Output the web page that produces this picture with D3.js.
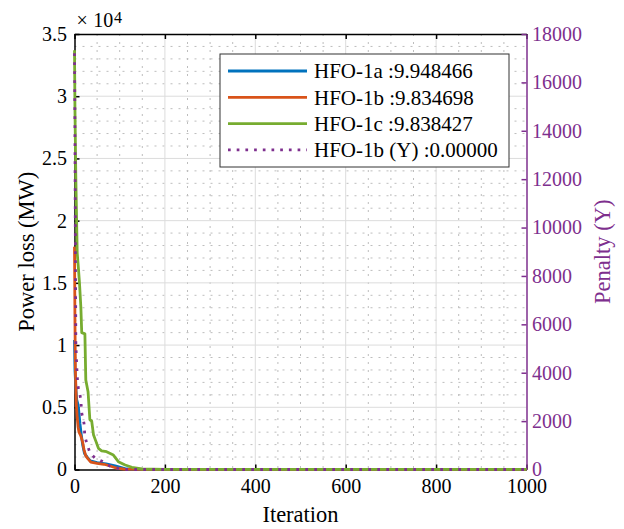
<!DOCTYPE html>
<html>
<head>
<meta charset="utf-8">
<script src="https://cdn.jsdelivr.net/npm/d3@7"></script>
<style>
  html, body { margin: 0; padding: 0; background: #fff; }
  svg { display: block; font-family: "Liberation Serif", "Times New Roman", serif; }
</style>
</head>
<body>
<svg id="chart" width="624" height="529"></svg>
<script>
// Convergence histories (best power loss per iteration, MW)
const hfo1aIter = [0, 1, 3, 5, 8, 10, 12, 15, 18, 22, 28, 35, 50, 70, 90, 115, 150, 1000];
const hfo1aLoss = [10400, 8000, 6500, 5600, 5200, 4500, 3700, 2800, 2000, 1300, 1000, 700, 550, 450, 300, 40, 12, 9.948466];

const hfo1bIter = [0, 1, 2, 4, 6, 8, 10, 14, 18, 21, 25, 30, 36, 50, 65, 77, 92, 110, 150, 1000];
const hfo1bLoss = [17900, 12000, 8000, 5300, 4200, 3400, 3000, 2700, 2200, 1600, 1100, 850, 600, 500, 420, 300, 120, 30, 10, 9.834698];

const hfo1cIter = [0, 1, 3, 6, 9, 11, 14, 16, 23, 25, 30, 34, 38, 42, 47, 53, 60, 71, 86, 97, 112, 127, 149, 200, 1000];
const hfo1cLoss = [33700, 29000, 23300, 17400, 16000, 15000, 13100, 11000, 10900, 7200, 6250, 4000, 3900, 2800, 2300, 1700, 1500, 1430, 1160, 630, 360, 180, 40, 12, 9.838427];

// Penalty of HFO-1b (right axis)
const penaltyIter = [0, 1, 2, 3, 5, 7, 9, 12, 14, 16, 21, 23, 27, 34, 45, 60, 78, 104, 1000];
const penaltyVal = [17200, 14000, 9000, 5200, 4240, 3570, 3300, 3100, 2870, 2330, 1910, 1360, 1100, 694, 480, 351, 145, 0, 0];

const legendLabels = ["HFO-1a :9.948466", "HFO-1b :9.834698", "HFO-1c :9.838427", "HFO-1b (Y) :0.00000"];
const seriesColors = ["#0072BD", "#D95319", "#77AC30", "#7E2F8E"];

const xTicks = [0, 200, 400, 600, 800, 1000];
const xTickLabels = ["0", "200", "400", "600", "800", "1000"];
const yLeftTicks = [0, 5000, 10000, 15000, 20000, 25000, 30000, 35000];
const yLeftTickLabels = ["0", "0.5", "1", "1.5", "2", "2.5", "3", "3.5"];
const yRightTicks = [0, 2000, 4000, 6000, 8000, 10000, 12000, 14000, 16000, 18000];
const yRightTickLabels = ["0", "2000", "4000", "6000", "8000", "10000", "12000", "14000", "16000", "18000"];

const plotLeft = 74.5, plotRight = 526.5, plotTop = 34, plotBottom = 469.5;
const svg = d3.select("#chart");

const x = d3.scaleLinear().domain([0, 1000]).range([plotLeft, plotRight]);
const yL = d3.scaleLinear().domain([0, 35000]).range([plotBottom, plotTop]);
const yR = d3.scaleLinear().domain([0, 18000]).range([plotBottom, plotTop]);

// Minor grid (dotted)
const minorG = svg.append("g").attr("stroke", "#bdbdbd").attr("stroke-width", 1).attr("stroke-dasharray", "2,6");
x.ticks(20).filter(v => v % 200 !== 0).forEach(v => {
  minorG.append("line").attr("x1", x(v)).attr("x2", x(v)).attr("y1", plotTop).attr("y2", plotBottom);
});
yL.ticks(35).filter(v => v % 5000 !== 0).forEach(v => {
  minorG.append("line").attr("x1", plotLeft).attr("x2", plotRight).attr("y1", yL(v)).attr("y2", yL(v));
});

// Major grid
const majorG = svg.append("g").attr("stroke", "#dcdcdc").attr("stroke-width", 1);
xTicks.slice(1, -1).forEach(v => {
  majorG.append("line").attr("x1", x(v)).attr("x2", x(v)).attr("y1", plotTop).attr("y2", plotBottom);
});
yLeftTicks.slice(1, -1).forEach(v => {
  majorG.append("line").attr("x1", plotLeft).attr("x2", plotRight).attr("y1", yL(v)).attr("y2", yL(v));
});

// Axes
function styleAxis(g, color, size) {
  g.selectAll(".domain").attr("stroke", color).attr("stroke-width", 1.5);
  g.selectAll(".tick line").attr("stroke", color).attr("stroke-width", 1.5);
  g.selectAll(".tick text").attr("fill", color).style("font-size", size + "px")
    .style("font-family", '"Liberation Serif", "Times New Roman", serif');
}

const xAxis = svg.append("g").attr("transform", `translate(0,${plotBottom})`)
  .call(d3.axisBottom(x).tickValues(xTicks).tickFormat((d, i) => xTickLabels[i])
    .tickSizeInner(-5).tickSizeOuter(0).tickPadding(9.5));
styleAxis(xAxis, "#000", 20);

const xTop = svg.append("g").attr("transform", `translate(0,${plotTop})`)
  .call(d3.axisTop(x).tickValues(xTicks).tickFormat("").tickSizeInner(-5).tickSizeOuter(0));
styleAxis(xTop, "#000", 20);

const yAxisL = svg.append("g").attr("transform", `translate(${plotLeft},0)`)
  .call(d3.axisLeft(yL).tickValues(yLeftTicks).tickFormat((d, i) => yLeftTickLabels[i])
    .tickSizeInner(-5).tickSizeOuter(0).tickPadding(7.5));
styleAxis(yAxisL, "#000", 20);

const yAxisR = svg.append("g").attr("transform", `translate(${plotRight},0)`)
  .call(d3.axisRight(yR).tickValues(yRightTicks).tickFormat((d, i) => yRightTickLabels[i])
    .tickSizeInner(-5).tickSizeOuter(0).tickPadding(5.5));
styleAxis(yAxisR, "#7E2F8E", 20);

// Exponent for left axis
const expo = svg.append("text").attr("y", 27).attr("fill", "#000").style("font-size", "20px");
expo.append("tspan").attr("x", 76.5).text("\u00D7");
expo.append("tspan").attr("x", 93.3).text("10");
expo.append("tspan").attr("x", 114).attr("y", 23).style("font-size", "16px").text("4");

// Axis titles
svg.append("text").attr("x", (plotLeft + plotRight) / 2).attr("y", 522).attr("text-anchor", "middle")
  .style("font-size", "22.5px").attr("fill", "#000").text("Iteration");
svg.append("text").attr("transform", `translate(34,${(plotTop + plotBottom) / 2}) rotate(-90)`)
  .attr("text-anchor", "middle").style("font-size", "22.5px").attr("fill", "#000").text("Power loss (MW)");
svg.append("text").attr("transform", `translate(610,${(plotTop + plotBottom) / 2}) rotate(-90)`)
  .attr("text-anchor", "middle").style("font-size", "22.5px").attr("fill", "#7E2F8E").text("Penalty (Y)");

// Data lines
svg.append("clipPath").attr("id", "plotClip").append("rect")
  .attr("x", plotLeft - 3).attr("y", plotTop - 3)
  .attr("width", plotRight - plotLeft + 6).attr("height", plotBottom - plotTop + 6);
const plot = svg.append("g").attr("clip-path", "url(#plotClip)");

const lossSeries = [
  [hfo1aIter, hfo1aLoss],
  [hfo1bIter, hfo1bLoss],
  [hfo1cIter, hfo1cLoss]
];
lossSeries.forEach(([it, val], k) => {
  const pts = it.map((d, i) => [d, val[i]]);
  plot.append("path")
    .attr("d", d3.line().x(d => x(d[0])).y(d => yL(d[1]))(pts))
    .attr("fill", "none").attr("stroke", seriesColors[k]).attr("stroke-width", 2.8)
    .attr("stroke-linejoin", "round");
});

const penPts = penaltyIter.map((d, i) => [d, penaltyVal[i]]);
plot.append("path")
  .attr("d", d3.line().x(d => x(d[0])).y(d => yR(d[1]))(penPts))
  .attr("fill", "none").attr("stroke", seriesColors[3]).attr("stroke-width", 2.8)
  .attr("stroke-dasharray", "2.7,6.3");

// Legend
const lg = svg.append("g");
lg.append("rect").attr("x", 220).attr("y", 54).attr("width", 289).attr("height", 113)
  .attr("fill", "#fff").attr("stroke", "#333").attr("stroke-width", 1);
legendLabels.forEach((lab, i) => {
  const cy = 71 + i * 26.3;
  const ln = lg.append("line").attr("x1", 228).attr("x2", 307).attr("y1", cy).attr("y2", cy)
    .attr("stroke", seriesColors[i]).attr("stroke-width", 2.8);
  if (i === 3) ln.attr("stroke-dasharray", "2.7,6");
  lg.append("text").attr("x", 314).attr("y", cy).attr("dy", "0.35em")
    .style("font-size", "21px").attr("fill", "#000").text(lab);
});
</script>
</body>
</html>
